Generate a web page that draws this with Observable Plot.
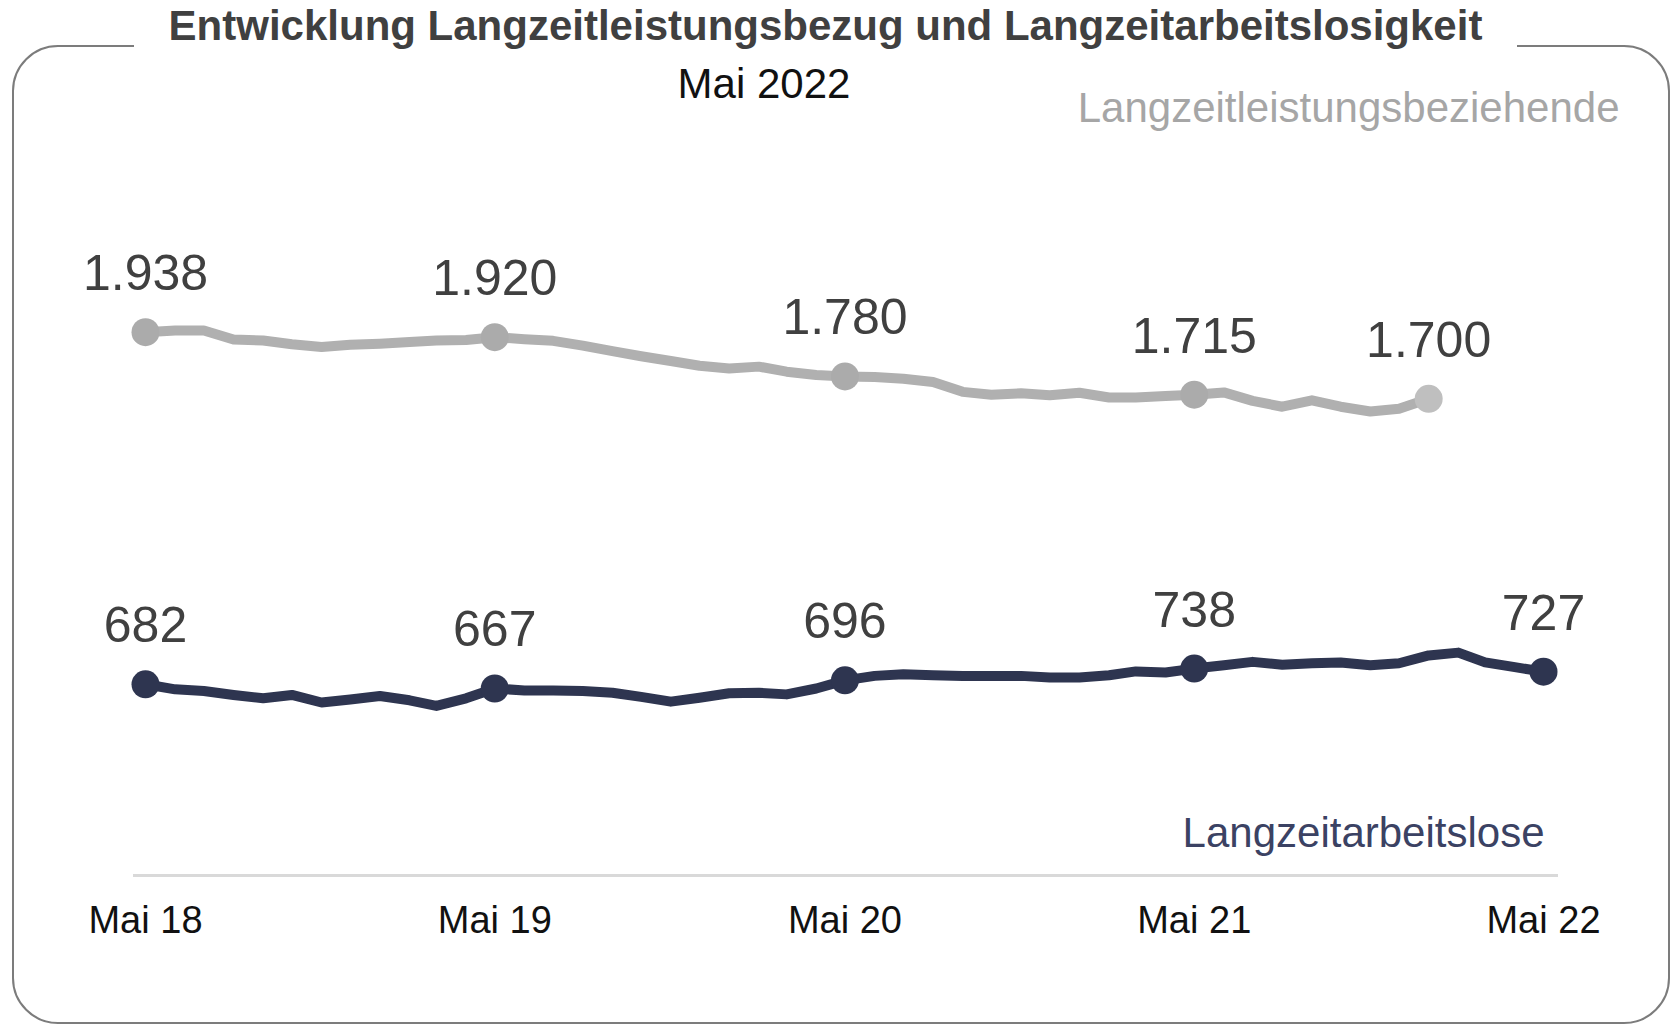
<!DOCTYPE html>
<html><head><meta charset="utf-8">
<script src="https://cdn.jsdelivr.net/npm/d3@7"></script>
<script src="https://cdn.jsdelivr.net/npm/@observablehq/plot@0.6"></script>
<style>
html,body{margin:0;padding:0;background:#fff;}
#wrap{position:relative;width:1675px;height:1025px;overflow:hidden;font-family:"Liberation Sans",Arial,sans-serif;}
#chart{position:absolute;left:0;top:60px;}
#box{position:absolute;left:12px;top:45px;width:1658px;height:979px;box-sizing:border-box;border:2.8px solid #7c7c7c;border-radius:46px;}
#title{position:absolute;left:134px;width:1383px;top:-2px;height:56px;background:#fff;text-align:center;font-weight:bold;font-size:42px;color:#404040;line-height:56px;white-space:nowrap;}
#sub{position:absolute;left:564px;width:400px;top:60px;text-align:center;font-size:42px;line-height:48px;color:#111;}
</style></head>
<body>
<div id="wrap">
  <div id="chart"></div>
  <div id="box"></div>
  <div id="title">Entwicklung Langzeitleistungsbezug und Langzeitarbeitslosigkeit</div>
  <div id="sub">Mai 2022</div>
</div>
<script>
const months = [
  "2018-05","2018-06","2018-07","2018-08","2018-09","2018-10","2018-11","2018-12",
  "2019-01","2019-02","2019-03","2019-04","2019-05","2019-06","2019-07","2019-08","2019-09","2019-10","2019-11","2019-12",
  "2020-01","2020-02","2020-03","2020-04","2020-05","2020-06","2020-07","2020-08","2020-09","2020-10","2020-11","2020-12",
  "2021-01","2021-02","2021-03","2021-04","2021-05","2021-06","2021-07","2021-08","2021-09","2021-10","2021-11","2021-12",
  "2022-01","2022-02","2022-03","2022-04","2022-05"
];
// Langzeitleistungsbeziehende (Mai 18 – Jan 22), in Tausend
const grayValues = [
  1938, 1944, 1944, 1912, 1908, 1895, 1885, 1893, 1897, 1903, 1908, 1910, 1920,
  1913, 1907, 1890, 1870, 1852, 1835, 1818, 1808, 1815, 1797, 1785, 1780,
  1778, 1772, 1760, 1725, 1715, 1720, 1713, 1722, 1705, 1705, 1710, 1715,
  1723, 1693, 1672, 1695, 1672, 1655, 1665, 1700
];
// Langzeitarbeitslose (Mai 18 – Mai 22), in Tausend
const darkValues = [
  682, 664, 658, 644, 632, 644, 617, 628, 640, 625, 605, 632, 667,
  660, 660, 658, 652, 637, 620, 634, 650, 652, 646, 667, 696,
  712, 718, 714, 712, 712, 712, 706, 706, 714, 728, 724, 738,
  750, 762, 752, 757, 760, 750, 757, 785, 795, 760, 743, 727
];
const labelMonthsGray = ["2018-05","2019-05","2020-05","2021-05","2022-01"];
const labelMonthsDark = ["2018-05","2019-05","2020-05","2021-05","2022-05"];
const tickMonths = ["2018-05","2019-05","2020-05","2021-05","2022-05"];
const tickLabels = ["Mai 18","Mai 19","Mai 20","Mai 21","Mai 22"];
const seriesNames = ["Langzeitleistungsbeziehende","Langzeitarbeitslose"];

const parse = d3.utcParse("%Y-%m");
const de = d3.formatLocale({decimal: ",", thousands: ".", grouping: [3], currency: ["", "€"]});
const fmt = de.format(",d");

const gray = grayValues.map((v, i) => ({date: parse(months[i]), value: v, key: months[i]}));
const dark = darkValues.map((v, i) => ({date: parse(months[i]), value: v, key: months[i]}));
const grayLab = gray.filter(d => labelMonthsGray.includes(d.key));
const darkLab = dark.filter(d => labelMonthsDark.includes(d.key));
const ticks = tickMonths.map(parse);

const GRAY = "#b0b0b0", DARK = "#2e3550";

const chart = Plot.plot({
  width: 1675,
  height: 965,
  marginLeft: 145,
  marginRight: 132,
  marginTop: 58,
  marginBottom: 150,
  style: {fontFamily: "'Liberation Sans', Arial, sans-serif", background: "transparent", overflow: "visible", color: "#111"},
  x: {type: "utc", domain: [parse(tickMonths[0]), parse(tickMonths[tickMonths.length - 1])]},
  y: {domain: [0, 2700], axis: null},
  marks: [
    Plot.ruleY([0], {stroke: "#d9d9d9", strokeWidth: 3, insetLeft: -12, insetRight: -15}),
    Plot.lineY(gray, {x: "date", y: "value", stroke: GRAY, strokeWidth: 10, strokeLinejoin: "round", strokeLinecap: "round"}),
    Plot.lineY(dark, {x: "date", y: "value", stroke: DARK, strokeWidth: 10, strokeLinejoin: "round", strokeLinecap: "round"}),
    Plot.dot(grayLab.slice(0, -1), {x: "date", y: "value", r: 14, fill: "#ababab", stroke: null}),
    Plot.dot(grayLab.slice(-1), {x: "date", y: "value", r: 14, fill: "#bfbfbf", stroke: null}),
    Plot.dot(darkLab, {x: "date", y: "value", r: 14, fill: DARK, stroke: null}),
    Plot.text(grayLab, {x: "date", y: "value", text: d => fmt(d.value), dy: -42, lineAnchor: "bottom", fontSize: 50, fill: "#404040"}),
    Plot.text(darkLab, {x: "date", y: "value", text: d => fmt(d.value), dy: -42, lineAnchor: "bottom", fontSize: 50, fill: "#404040"}),
    Plot.text([seriesNames[0]], {frameAnchor: "top-right", text: d => d, textAnchor: "end", lineAnchor: "bottom", dx: 76, dy: 3, fontSize: 42, fill: "#a6a6a6"}),
    Plot.text([seriesNames[1]], {x: () => ticks[ticks.length - 1], y: () => 0, text: d => d, textAnchor: "end", lineAnchor: "bottom", dx: 1, dy: -29, fontSize: 42, fill: "#3b4263"}),
    Plot.axisX({ticks: ticks, tickFormat: (d, i) => tickLabels[i], tickSize: 0, tickPadding: 31, fontSize: 38, label: null, color: "#111"})
  ]
});
document.getElementById("chart").appendChild(chart);
</script>
</body></html>
